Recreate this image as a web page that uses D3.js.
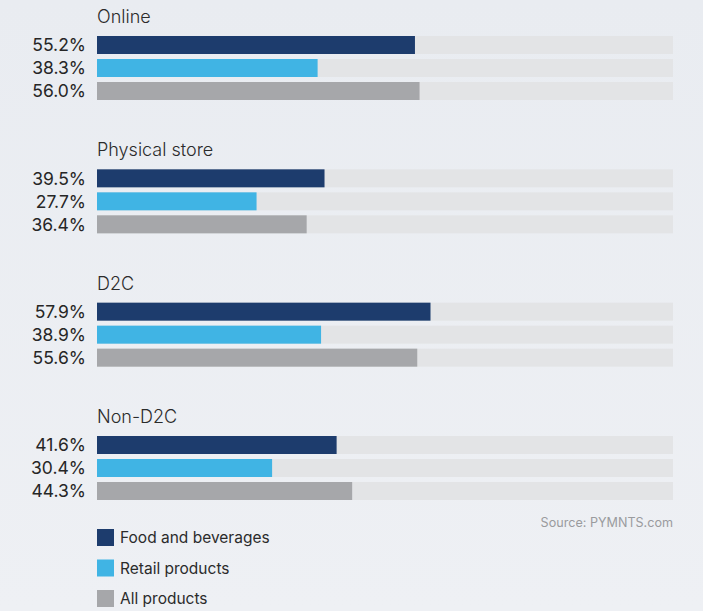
<!DOCTYPE html>
<html>
<head>
<meta charset="utf-8">
<script src="https://cdn.jsdelivr.net/npm/d3@7/dist/d3.min.js"></script>
<style>
  html, body { margin: 0; padding: 0; background: #eaedf2; }
  svg { display: block; }
  text { font-family: Inter, "Open Sans", sans-serif; }
</style>
</head>
<body>
<svg id="chart" width="703" height="611"></svg>
<script>
// Share of consumers, by channel and product type (percent)
const groups = ["Online", "Physical store", "D2C", "Non-D2C"];
const series = ["Food and beverages", "Retail products", "All products"];
const foodValues   = [55.2, 39.5, 57.9, 41.6];
const retailValues = [38.3, 27.7, 38.9, 30.4];
const allValues    = [56.0, 36.4, 55.6, 44.3];
const seriesColors = ["#1d3c6d", "#40b4e4", "#a6a7aa"];
const sourceText = "Source: PYMNTS.com";

const valuesBySeries = [foodValues, retailValues, allValues];

const svg = d3.select("#chart");
const width = 703, height = 611;

const bg = svg.append("defs").append("linearGradient")
  .attr("id", "bg").attr("x1", 0).attr("y1", 0).attr("x2", 0).attr("y2", 1);
bg.append("stop").attr("offset", 0).attr("stop-color", "#e9ecf1");
bg.append("stop").attr("offset", 1).attr("stop-color", "#eef0f4");
svg.append("rect").attr("width", width).attr("height", height).attr("fill", "url(#bg)");

const x = d3.scaleLinear().domain([0, 100]).range([97, 673]);

// vertical placement of each group block
const groupY = d3.scalePoint().domain(groups).range([36, 436]);
const barH = 18, barStep = 23;

groups.forEach((g, gi) => {
  const y0 = groupY(g);
  const block = svg.append("g");

  block.append("text")
    .attr("x", 97).attr("y", y0 - 13)
    .attr("font-size", 18).attr("font-weight", 300)
    .attr("fill", "#2b2b2b")
    .text(g);

  series.forEach((s, si) => {
    const v = valuesBySeries[si][gi];
    const y = y0 + si * barStep;
    block.append("rect")
      .attr("x", x(0)).attr("y", y)
      .attr("width", x(100) - x(0)).attr("height", barH)
      .attr("fill", "#e3e4e6");
    block.append("rect")
      .attr("x", x(0)).attr("y", y)
      .attr("width", x(v) - x(0)).attr("height", barH)
      .attr("fill", seriesColors[si]);
    block.append("text")
      .attr("class", "value")
      .attr("x", 86).attr("y", y + barH / 2)
      .attr("dy", "0.36em")
      .attr("text-anchor", "end")
      .attr("font-size", 17.5).attr("font-weight", 400)
      .attr("fill", "#262626")
      .text(v.toFixed(1) + "%");
  });
});

svg.append("text")
  .attr("x", 673).attr("y", 527)
  .attr("text-anchor", "end")
  .attr("font-size", 12.6).attr("fill", "#9a9b9e")
  .text(sourceText);

const legend = svg.append("g");
series.forEach((s, si) => {
  const y = 529 + si * 30.5;
  legend.append("rect")
    .attr("x", 97).attr("y", y).attr("width", 17).attr("height", 17)
    .attr("fill", seriesColors[si]);
  legend.append("text")
    .attr("x", 120).attr("y", y + 8.5).attr("dy", "0.36em")
    .attr("font-size", 15.5).attr("fill", "#2b2b2b")
    .text(s);
});
</script>
</body>
</html>
